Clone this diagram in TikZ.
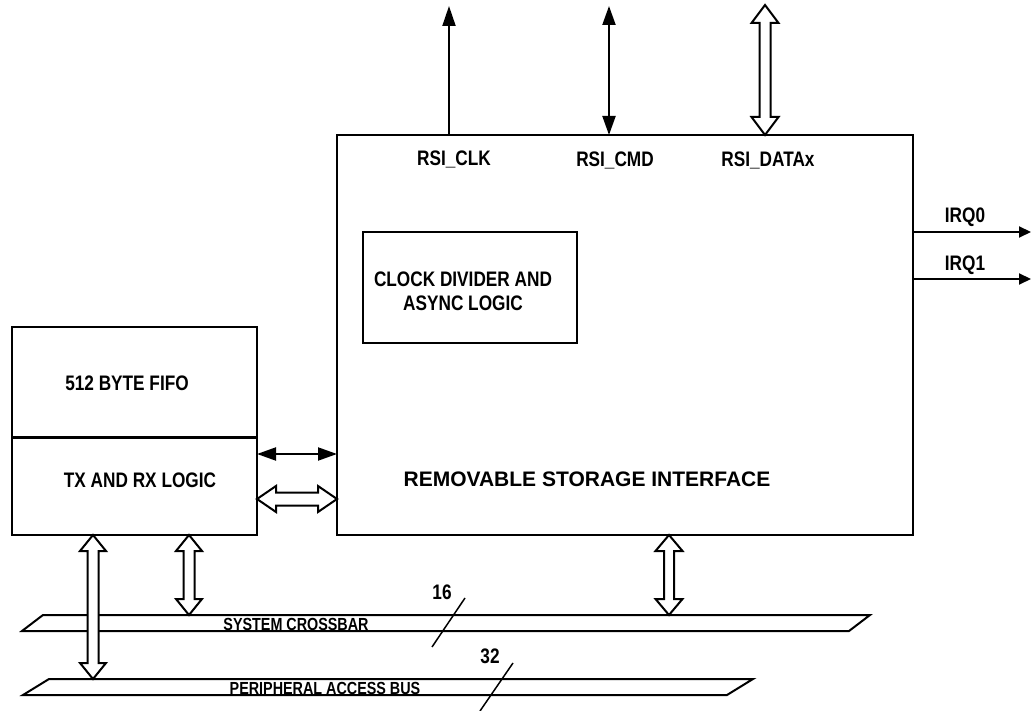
\documentclass[tikz,border=0pt]{standalone}
\usepackage{fontspec}
\setmainfont{Liberation Sans}
\newfontfamily\narrowfont{Liberation Sans}[FakeStretch=0.82]
\usetikzlibrary{calc,arrows.meta}

\tikzset{
  box/.style={draw, line width=2pt, inner sep=0pt, outer sep=0pt},
  lab/.style={inner sep=0pt, font=\narrowfont\bfseries\fontsize{21}{26}\selectfont, text height=15pt, text depth=0pt},
  widelab/.style={inner sep=0pt, font=\bfseries\fontsize{21}{26}\selectfont, text height=15pt, text depth=0pt},
  buslab/.style={inner sep=0pt, font=\narrowfont\bfseries\fontsize{17.5}{20}\selectfont, text height=12.5pt, text depth=0pt},
  sig/.style={line width=2pt},
  tip/.style={-{Triangle[length=20pt,width=13pt]}},
  dtip/.style={{Triangle[length=19pt,width=13pt]}-{Triangle[length=19pt,width=13pt]}},
  irq/.style={line width=2pt, -{Triangle[length=12pt,width=11pt]}},
  hollowarr/.style={draw, line width=2pt, fill=white, line join=miter},
  bus/.style={draw, line width=2pt, fill=white, line join=miter},
  slash/.style={line width=1.5pt}
}

% double-headed hollow arrow between two named coordinates
% #1,#2 ends; #3 head length, #4 half head width, #5 half shaft width
\newcommand\hollowdbl[5]{%
  \path[hollowarr] (#1)
    -- ($(#1)!#3!(#2)!#4!90:(#2)$)
    -- ($(#1)!#3!(#2)!#5!90:(#2)$)
    -- ($(#2)!#3!(#1)!#5!-90:(#1)$)
    -- ($(#2)!#3!(#1)!#4!-90:(#1)$)
    -- (#2)
    -- ($(#2)!#3!(#1)!#4!90:(#1)$)
    -- ($(#2)!#3!(#1)!#5!90:(#1)$)
    -- ($(#1)!#3!(#2)!#5!-90:(#2)$)
    -- ($(#1)!#3!(#2)!#4!-90:(#2)$)
    -- cycle;}

\begin{document}
\begin{tikzpicture}[x=1pt,y=-1pt]
\useasboundingbox (0,0) rectangle (1031,711);

% buses
\path[bus] (43,615) -- (870,615) -- (849,631) -- (22,631) -- cycle;
\path[bus] (49,679) -- (753,679) -- (727,695) -- (23,695) -- cycle;
\node[buslab] (sxlab) at (296,624) {SYSTEM CROSSBAR};
\node[buslab] (pablab) at (325,688) {PERIPHERAL ACCESS BUS};

% boxes
\node[box, minimum width=576pt, minimum height=400pt] (rsi) at (625,335) {};
\node[box, minimum width=214pt, minimum height=111pt] (clkdiv) at (470,287.5) {};
\node[box, minimum width=245pt, minimum height=110pt] (fifo) at (134.5,382) {};
\node[box, minimum width=245pt, minimum height=98pt] (txrx) at (134.5,486) {};
\draw[line width=3pt] (fifo.south west) -- (fifo.south east);

% labels
\node[lab] (lclk) at (454,158) {RSI\_CLK};
\node[lab] (lcmd) at (615,159) {RSI\_CMD};
\node[lab] (ldat) at (768,159) {RSI\_DATAx};
\node[lab] (lirq0) at (965,215) {IRQ0};
\node[lab] (lirq1) at (965,263) {IRQ1};
\node[lab, align=center, text height=, text depth=] (lclkdiv) at (463,291) {CLOCK DIVIDER AND\\[-2pt]ASYNC LOGIC};
\node[lab] (lfifo) at (127,383) {512 BYTE FIFO};
\node[lab] (ltxrx) at (140,480) {TX AND RX LOGIC};
\node[widelab] (lrsi) at (587,479) {REMOVABLE STORAGE INTERFACE};
\node[lab] (l16) at (442,592) {16};
\node[lab] (l32) at (490,656) {32};

% coordinates
\coordinate (clkb) at (449,135);
\coordinate (clkt) at (449,6);
\coordinate (cmdb) at (609,135);
\coordinate (cmdt) at (609,6);
\coordinate (datb) at (765,135);
\coordinate (datt) at (765,5);
\coordinate (irq0a) at (913,232);
\coordinate (irq0b) at (1031,232);
\coordinate (irq1a) at (913,279);
\coordinate (irq1b) at (1031,279);
\coordinate (h1a) at (257,454);
\coordinate (h1b) at (337,454);
\coordinate (h2a) at (257,499);
\coordinate (h2b) at (337,499);
\coordinate (v1a) at (93,535);
\coordinate (v1b) at (93,679);
\coordinate (v2a) at (189,535);
\coordinate (v2b) at (189,615);
\coordinate (v3a) at (669,535);
\coordinate (v3b) at (669,615);
\coordinate (s16a) at (465,598);
\coordinate (s16b) at (432,647);
\coordinate (s32a) at (513,663);
\coordinate (s32b) at (480,711);

% signal arrows
\draw[sig, tip] (clkb) -- (clkt);
\draw[sig, dtip] (cmdb) -- (cmdt);
\hollowdbl{datb}{datt}{18pt}{13.5pt}{5.5pt}
\draw[irq] (irq0a) -- (irq0b);
\draw[irq] (irq1a) -- (irq1b);
\draw[sig, dtip] (h1a) -- (h1b);
\hollowdbl{h2a}{h2b}{19pt}{13pt}{6.5pt}
\hollowdbl{v1a}{v1b}{16pt}{13pt}{5.5pt}
\hollowdbl{v2a}{v2b}{16pt}{13pt}{5.5pt}
\hollowdbl{v3a}{v3b}{16pt}{13.5pt}{5pt}

% bus width marks
\draw[slash] (s16a) -- (s16b);
\draw[slash] (s32a) -- (s32b);
\end{tikzpicture}
\end{document}
